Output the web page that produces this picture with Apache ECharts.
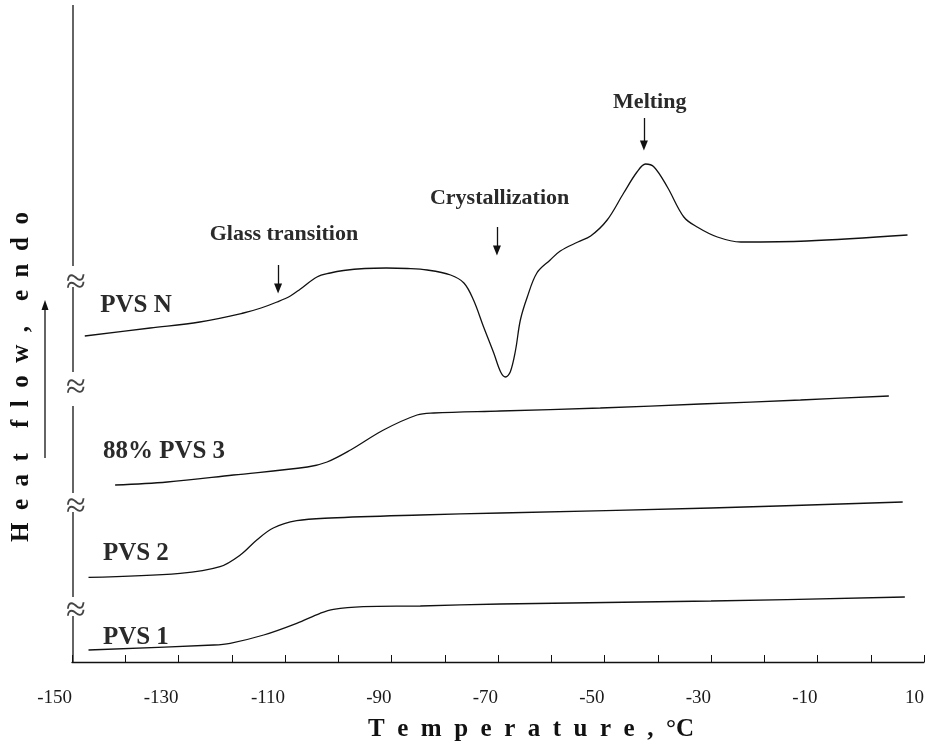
<!DOCTYPE html>
<html>
<head>
<meta charset="utf-8">
<script src="https://cdn.jsdelivr.net/npm/echarts@6/dist/echarts.min.js"></script>
<style>
html,body{margin:0;padding:0;background:#fff;}
#chart{width:927px;height:743px;}
</style>
</head>
<body>
<div id="chart"></div>
<script>
// ---- Data (temperature °C, heat flow in arbitrary offset units) ----
const pvsN_T  = [-147.6,-135.3,-126,-117.8,-114.5,-111.5,-109,-107.1,-104,-101.5,-99,-95,-91,-87,-83.3,-78.9,-76.4,-74.6,-72.7,-70.8,-69.5,-68.6,-67.7,-66.7,-65.8,-64.5,-62.7,-60.2,-58.3,-55,-52.6,-49.5,-46.4,-43.9,-42.3,-40.7,-38.2,-35.1,-32.6,-28.8,-24.4,-12,6.9];
const pvsN_HF = [32.6,33.4,34.0,34.9,35.4,36.0,36.6,37.3,38.5,38.9,39.15,39.35,39.4,39.35,39.2,38.7,37.9,36.2,33.5,30.9,29.0,28.5,29.0,31.2,34.2,36.5,38.9,40.2,41.1,42.0,42.6,44.2,46.9,49.0,49.8,49.5,47.5,44.5,43.5,42.5,42.0,42.1,42.7];

const pvs3_T  = [-141.9,-132.1,-119.7,-105.8,-102.1,-97.7,-91.5,-85.2,-82.1,-69.6,-50.8,-32,-13.2,3.4];
const pvs3_HF = [17.7,18.0,18.7,19.5,20.0,21.2,23.2,24.7,24.9,25.1,25.4,25.8,26.2,26.6];

const pvs2_T  = [-146.9,-129.7,-122.2,-118.4,-115.3,-112.2,-107.8,-101.5,-84.6,-69.5,-30,6];
const pvs2_HF = [8.47,8.87,9.53,10.7,12.2,13.4,14.13,14.4,14.7,14.9,15.4,16.0];

const pvs1_T  = [-146.9,-123.4,-120.3,-114,-107.8,-103.4,-100.9,-95.3,-84.6,-69.5,-30,6.4];
const pvs1_HF = [1.2,1.7,1.87,2.7,3.87,4.87,5.27,5.53,5.6,5.8,6.1,6.5];

// curve labels
const curveNames  = ['PVS N','88% PVS 3','PVS 2','PVS 1'];
const curveLabelT = [-144.7,-144.2,-144.2,-144.2];
const curveLabelY = [35.6,21.0,10.8,2.4];

// transition annotations
const annoNames  = ['Glass transition','Crystallization','Melting'];
const annoArrowT = [-111.3,-70.2,-42.6];
const annoArrowTop = [39.7,43.5,54.4];
const annoArrowBot = [36.9,40.7,51.2];
const annoLabelT = [-110.2,-69.7,-41.5];
const annoLabelY = [42.8,46.4,56.0];

// y-axis break marks (heat-flow units)
const axisSegments = [[0,4.6],[6.5,15.0],[16.9,25.6],[29.0,37.5],[39.6,65.7]];
const breakMarks = [38.4,27.9,16.0,5.6];

const xTicksMin = -150, xTicksMax = 10;

const zip = (a,b) => a.map((v,i)=>[v,b[i]]);
const SERIF = '"Liberation Serif","Times New Roman",serif';

const chart = echarts.init(document.getElementById('chart'), null, {renderer:'canvas'});

const lineSeries = (name, T, HF, extra) => Object.assign({
  name, type:'line', data: zip(T,HF), showSymbol:false, smooth:0.35,
  lineStyle:{color:'#111', width:1.3}, silent:true, z:3
}, extra||{});

const option = {
  animation:false,
  backgroundColor:'#fff',
  grid:{left:72, right:3, top:5, bottom:81, containLabel:false},
  xAxis:{
    type:'value', min:xTicksMin, max:xTicksMax, interval:10,
    axisLine:{show:true, lineStyle:{color:'#111', width:1.3}},
    axisTick:{show:true, inside:true, length:7, lineStyle:{color:'#111', width:1}},
    splitLine:{show:false},
    axisLabel:{
      show:true, margin:27, align:'right', color:'#1a1a1a', fontFamily:SERIF, fontSize:19,
      showMinLabel:true, showMaxLabel:true, hideOverlap:false,
      formatter: v => ((Math.round(v)+150)%20===0 ? String(Math.round(v)) : '')
    }
  },
  yAxis:{type:'value', min:0, max:65.7, show:false},
  graphic:[
    {type:'text', x:22, y:377, rotation:Math.PI/2,
     style:{text:'H  e  a  t    f  l  o  w  ,    e  n  d  o', font:'bold 25px '+SERIF, fill:'#111',
            textAlign:'center', textVerticalAlign:'middle'}},
    {type:'text', x:531, y:730,
     style:{text:'T  e  m  p  e  r  a  t  u  r  e  ,  °C', font:'bold 25px '+SERIF, fill:'#111',
            textAlign:'center', textVerticalAlign:'middle'}},
    {type:'line', shape:{x1:45,y1:458,x2:45,y2:308}, style:{stroke:'#111', lineWidth:1.3}},
    {type:'polygon', shape:{points:[[45,300],[41.5,310],[48.5,310]]}, style:{fill:'#111'}}
  ],
  series:[
    lineSeries('PVS N', pvsN_T, pvsN_HF, {
      markLine:{
        silent:true, symbol:['none','triangle'], symbolSize:[8,10],
        lineStyle:{color:'#111', width:1.3, type:'solid'},
        label:{show:false},
        data: annoArrowT.map((t,i)=>[{coord:[t,annoArrowTop[i]]},{coord:[t,annoArrowBot[i]+0.45]}])
      }
    }),
    lineSeries('88% PVS 3', pvs3_T, pvs3_HF),
    lineSeries('PVS 2', pvs2_T, pvs2_HF),
    lineSeries('PVS 1', pvs1_T, pvs1_HF),
    {
      name:'curveLabels', type:'scatter', symbolSize:0, silent:true,
      itemStyle:{opacity:1},
      data: curveNames.map((n,i)=>({name:n, value:[curveLabelT[i], curveLabelY[i]]})),
      label:{show:true, position:'right', distance:0, formatter:'{b}',
             fontFamily:SERIF, fontWeight:'bold', fontSize:25, color:'#2a2a2a'}
    },
    {
      name:'annotations', type:'scatter', symbolSize:0, silent:true,
      itemStyle:{opacity:1},
      data: annoNames.map((n,i)=>({name:n, value:[annoLabelT[i], annoLabelY[i]]})),
      label:{show:true, position:'inside', formatter:'{b}',
             fontFamily:SERIF, fontWeight:'bold', fontSize:22, color:'#2a2a2a'}
    },
    {
      name:'yAxisLine', type:'custom', silent:true, clip:false,
      data: axisSegments,
      renderItem:(params, api)=>{
        const p1 = api.coord([xTicksMin, api.value(0)]);
        const p2 = api.coord([xTicksMin, api.value(1)]);
        return {type:'line', shape:{x1:p1[0]+1,y1:p1[1],x2:p2[0]+1,y2:p2[1]},
                style:{stroke:'#111', lineWidth:1.3}};
      }
    },
    {
      name:'breaks', type:'custom', silent:true, clip:false,
      data: breakMarks.map(v=>[xTicksMin, v]),
      renderItem:(params, api)=>{
        const p = api.coord([api.value(0), api.value(1)]);
        return {type:'text', x:p[0]+4, y:p[1]+6,
                style:{text:'≈', font:'36px '+SERIF, fill:'#444',
                       textAlign:'center', textVerticalAlign:'middle'}};
      }
    }
  ]
};
chart.setOption(option);
</script>
</body>
</html>
